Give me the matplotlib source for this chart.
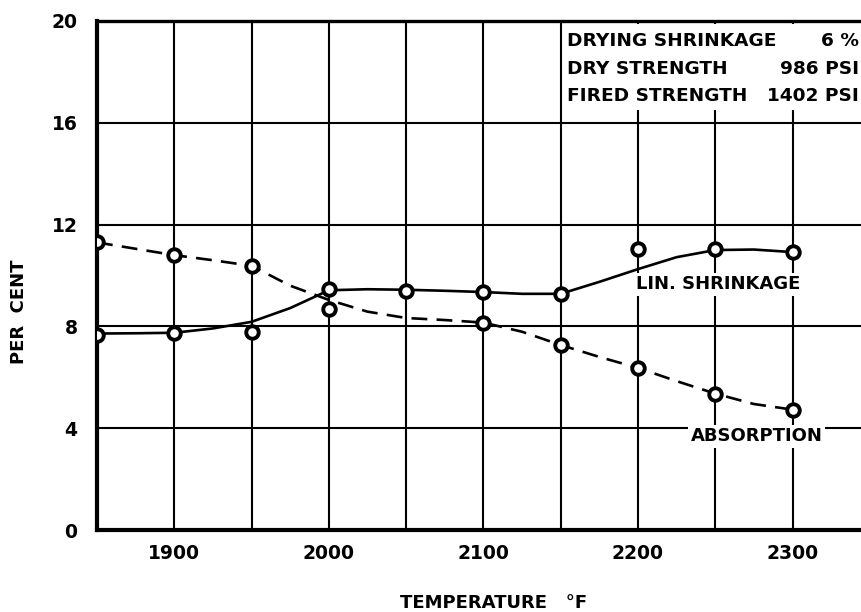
import matplotlib
matplotlib.use("Agg")
import matplotlib.pyplot as plt
from matplotlib.ticker import MultipleLocator
from matplotlib.patches import Rectangle

# ---- data ----
temps_lin = [1850, 1900, 1950, 2000, 2050, 2100, 2150, 2200, 2250, 2300]
lin_shrinkage = [7.66, 7.74, 7.78, 9.47, 9.40, 9.36, 9.27, 11.04, 11.04, 10.92]

temps_abs = [1850, 1900, 1950, 2000, 2100, 2150, 2200, 2250, 2300]
absorption = [11.32, 10.80, 10.38, 8.68, 8.15, 7.27, 6.37, 5.36, 4.73]

# hand-drawn trend curves
curve_x = [1850, 1875, 1900, 1925, 1950, 1975, 2000, 2025, 2050, 2075, 2100,
           2125, 2150, 2175, 2200, 2225, 2250, 2275, 2300]
lin_curve = [7.72, 7.73, 7.75, 7.92, 8.18, 8.72, 9.42, 9.46, 9.44, 9.40, 9.35,
             9.28, 9.28, 9.75, 10.25, 10.72, 11.00, 11.02, 10.92]
abs_curve = [11.30, 11.05, 10.80, 10.60, 10.38, 9.60, 9.04, 8.58, 8.33, 8.25, 8.15,
             7.79, 7.27, 6.80, 6.37, 5.85, 5.36, 4.95, 4.73]

x_ticks = [1900, 2000, 2100, 2200, 2300]
y_ticks = [0, 4, 8, 12, 16, 20]

info_labels = ["DRYING SHRINKAGE", "DRY STRENGTH", "FIRED STRENGTH"]
info_values = ["6 %", "986 PSI", "1402 PSI"]

# ---- figure ----
W, H = 862, 612
fig = plt.figure(figsize=(W / 100, H / 100), dpi=100)
ax = fig.add_axes([97 / W, 82 / H, (W - 97) / W, (530 - 21) / H])
ax.set_xlim(1850, 1850 + (W - 97) / 1.5456)
ax.set_ylim(0, 20)

ax.xaxis.set_major_locator(plt.FixedLocator(x_ticks))
ax.xaxis.set_minor_locator(MultipleLocator(50))
ax.yaxis.set_major_locator(plt.FixedLocator(y_ticks))
ax.grid(which="both", axis="x", color="black", lw=1.5, zorder=1)
ax.grid(which="major", axis="y", color="black", lw=1.5, zorder=1)
ax.set_axisbelow(True)
ax.tick_params(which="both", length=0, labelsize=13.5)
ax.tick_params(axis="x", pad=10)
ax.tick_params(axis="y", pad=14)
for lab in ax.get_xticklabels() + ax.get_yticklabels():
    lab.set_fontweight("bold")

for s in ["left", "bottom"]:
    ax.spines[s].set_linewidth(3.0)
ax.spines["top"].set_linewidth(2.4)
ax.spines["right"].set_visible(False)

# curves
ax.plot(curve_x, lin_curve, color="black", lw=1.9, zorder=3)
ax.plot(curve_x, abs_curve, color="black", lw=1.9, dashes=(6, 3.5), zorder=3)

# points
mk = dict(marker="o", ms=9, mfc="white", mec="black", mew=2.8, ls="none", zorder=5)
ax.plot(temps_lin, lin_shrinkage, **mk)
ax.plot(temps_abs, absorption, **mk)

# annotations
bb = dict(facecolor="white", edgecolor="none", pad=1.5)
ax.text(2199, 9.65, "LIN. SHRINKAGE", fontsize=13, fontweight="bold",
        ha="left", va="center", bbox=bb, zorder=4)
ax.text(2234, 3.68, "ABSORPTION", fontsize=13, fontweight="bold",
        ha="left", va="center", bbox=bb, zorder=4)

# info block (white background covering grid)
ax.add_patch(Rectangle((563 / W, (H - 110) / H), (W - 563) / W, (110 - 24) / H,
                       transform=fig.transFigure, facecolor="white",
                       edgecolor="none", zorder=4, clip_on=False))
for i, (lab, val) in enumerate(zip(info_labels, info_values)):
    yy = (H - (41 + 27.5 * i)) / H
    fig.text(567 / W, yy, lab, fontsize=13.3, fontweight="bold", ha="left", va="center", zorder=6)
    fig.text(859 / W, yy, val, fontsize=13.3, fontweight="bold", ha="right", va="center", zorder=6)

fig.text(19 / W, (H - 312) / H, "PER  CENT", rotation=90, fontsize=13,
         fontweight="bold", ha="center", va="center")
fig.text(494 / W, (H - 603) / H, "TEMPERATURE   °F", fontsize=13,
         fontweight="bold", ha="center", va="center")

fig.savefig("out.png", dpi=100)
